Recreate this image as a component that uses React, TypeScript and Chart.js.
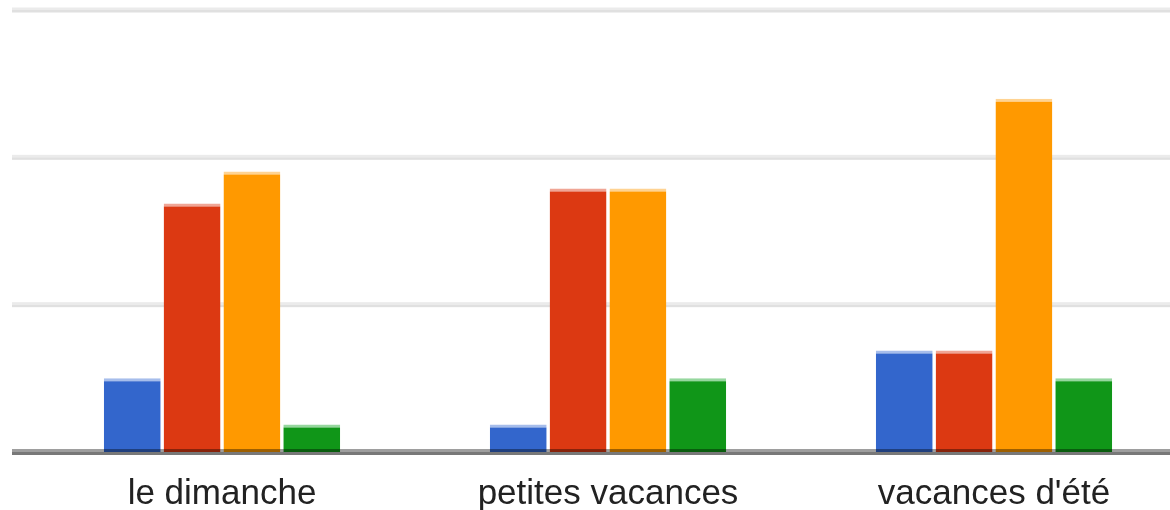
import React, { useEffect, useRef } from "react";
import { Chart, registerables } from "chart.js";

Chart.register(...registerables);

const categories = ["le dimanche", "petites vacances", "vacances d'été"];
const seriesNames = ["Série 1", "Série 2", "Série 3", "Série 4"];
const blueValues = [5.0, 1.87, 6.89];
const redValues = [16.86, 17.88, 6.89];
const orangeValues = [19.03, 17.88, 23.98];
const greenValues = [1.87, 5.0, 5.0];
const yTicks = [0, 10, 20, 30];

const colors = ["#3366cc", "#dc3912", "#ff9900", "#109618"];
const topColors = ["#a6bdeb", "#f0a595", "#ffd392", "#96d79e"];

const gridPlugin = {
  id: "gcGrid",
  beforeDatasetsDraw(chart: any) {
    const { ctx } = chart;
    const y = chart.scales.y;
    ctx.save();
    for (const v of yTicks) {
      if (v === 0) continue;
      const py = y.getPixelForValue(v);
      ctx.fillStyle = "#ebebeb";
      ctx.fillRect(12, py - 2.5, chart.width - 12, 2.5);
      ctx.fillStyle = "#e0e0e0";
      ctx.fillRect(12, py, chart.width - 12, 2.5);
    }
    ctx.restore();
  },
  afterDatasetsDraw(chart: any) {
    const { ctx } = chart;
    const y = chart.scales.y;
    const py = y.getPixelForValue(0);
    ctx.save();
    ctx.fillStyle = "rgba(0,0,0,0.38)";
    ctx.fillRect(12, py - 3, chart.width - 12, 3);
    ctx.fillStyle = "rgba(0,0,0,0.53)";
    ctx.fillRect(12, py, chart.width - 12, 3);
    ctx.restore();
  },
};

export default function App() {
  const ref = useRef<HTMLCanvasElement>(null);
  useEffect(() => {
    if (!ref.current) return;
    const series = [blueValues, redValues, orangeValues, greenValues];
    const chart = new Chart(ref.current, {
      type: "bar",
      data: {
        labels: categories,
        datasets: series.map((d, i) => ({
          label: seriesNames[i],
          data: d,
          backgroundColor: colors[i],
          borderColor: topColors[i],
          borderWidth: { top: 3, left: 0, right: 0, bottom: 0 },
          borderSkipped: false,
          categoryPercentage: 0.62,
          barPercentage: 0.95,
        })),
      },
      options: {
        animation: false,
        responsive: false,
        layout: { padding: { left: 29, right: 13, top: 10, bottom: 0 } },
        plugins: { legend: { display: false }, tooltip: { enabled: false } },
        scales: {
          x: {
            grid: { display: false, drawTicks: false },
            border: { display: false },
            ticks: {
              color: "#222222",
              padding: 21,
              font: { family: "'Liberation Sans', Arial, sans-serif", size: 35, lineHeight: 1.2 },
              maxRotation: 0,
              autoSkip: false,
            },
          },
          y: {
            display: false,
            min: 0,
            max: 30,
            ticks: { stepSize: 10 },
          },
        },
      },
      plugins: [gridPlugin],
    });
    return () => chart.destroy();
  }, []);
  return (
    <div
      style={{
        position: "fixed",
        left: 0,
        top: 0,
        width: 1170,
        height: 510,
        overflow: "hidden",
        background: "#ffffff",
      }}
    >
      <canvas ref={ref} width={1200} height={536} style={{ width: 1200, height: 536 }} />
    </div>
  );
}
